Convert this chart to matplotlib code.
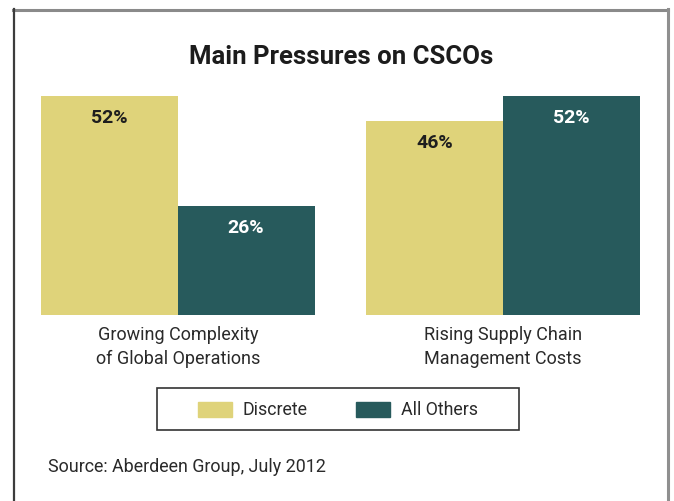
import matplotlib
matplotlib.use("Agg")
import matplotlib.pyplot as plt
from matplotlib.lines import Line2D

plt.rcParams['font.family'] = ['Roboto', 'DejaVu Sans']

# data
categories = ["Growing Complexity\nof Global Operations",
              "Rising Supply Chain\nManagement Costs"]
series_names = ["Discrete", "All Others"]
discrete = [52, 46]
all_others = [26, 52]

yellow = "#DFD37A"
teal = "#275A5C"

fig = plt.figure(figsize=(6.74, 5.02), dpi=100)

# outer frame
fig.add_artist(Line2D([13/674, 668/674], [1 - 11/502, 1 - 11/502], color="#8a8a8a", lw=2.2))
fig.add_artist(Line2D([13.5/674, 13.5/674], [0, 1 - 10/502], color="#3c3c3c", lw=1.6))
fig.add_artist(Line2D([668/674, 668/674], [0, 1 - 10/502], color="#8f8f8f", lw=2.2))

fig.text(341/674, 1 - 57/502, "Main Pressures on CSCOs", ha="center", va="center",
         fontsize=18.5, fontweight="bold", color="#1c1c1c")

ax = fig.add_axes([41/674, 1 - 316/502, 599/674, 219/502])
gap = 326/137
xs = [0, gap]
w = 1.0
b1 = ax.bar([x - w/2 for x in xs], discrete, width=w, color=yellow)
b2 = ax.bar([x + w/2 for x in xs], all_others, width=w, color=teal)
ax.set_xlim(-1, gap + 1)
ax.set_ylim(0, 52)
ax.axis("off")

for rects, vals, col in [(b1, discrete, "#1e1e1e"), (b2, all_others, "white")]:
    for r, v in zip(rects, vals):
        ax.text(r.get_x() + r.get_width()/2, v - 5.0, f"{v}%", ha="center", va="center",
                fontsize=14, fontweight="bold", color=col)

for x, c in zip(xs, categories):
    ax.text(x, -7.4, c, ha="center", va="center", fontsize=13, color="#2a2a2a",
            linespacing=1.4)

# legend box
fig.add_artist(plt.Rectangle((157/674, 1 - 431/502), 362/674, 42/502, transform=fig.transFigure,
                             fill=False, edgecolor="#333333", lw=1.2))
legend_x = [198, 356]
for lx, name, col in zip(legend_x, series_names, [yellow, teal]):
    fig.add_artist(plt.Rectangle((lx/674, 1 - 418/502), 34/674, 15/502,
                                 transform=fig.transFigure, color=col))
    fig.text((lx + 45)/674, 1 - 410/502, name, ha="left", va="center",
             fontsize=12.8, color="#2a2a2a")

fig.text(48/674, 1 - 467/502, "Source: Aberdeen Group, July 2012", ha="left", va="center",
         fontsize=12.9, color="#2a2a2a")

fig.savefig("out.png", dpi=100)
